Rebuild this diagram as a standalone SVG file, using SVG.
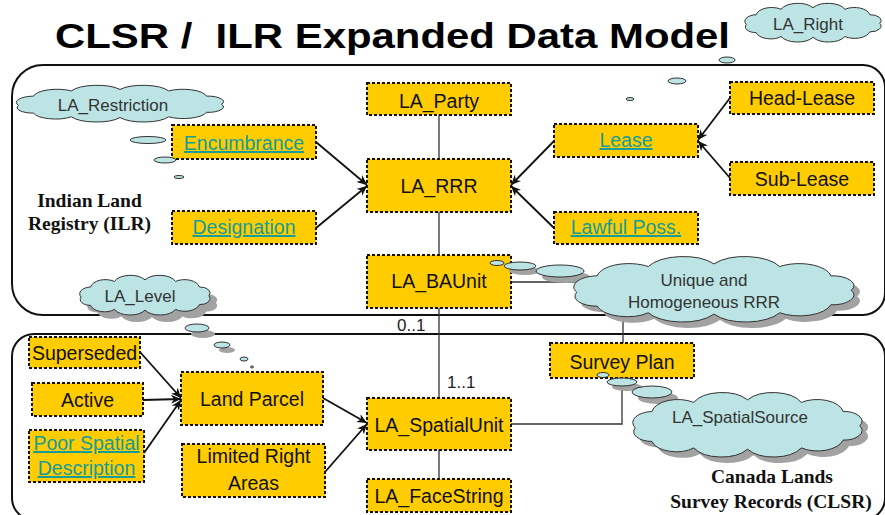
<svg xmlns="http://www.w3.org/2000/svg" xmlns:xlink="http://www.w3.org/1999/xlink" width="885" height="515" viewBox="0 0 885 515">
<style>
.box{fill:#FFCC00;stroke:#111;stroke-width:2;stroke-dasharray:3 2}
.t{font-family:"Liberation Sans",Arial,sans-serif;font-size:19.5px;fill:#111;text-anchor:middle}
.lnk{fill:#139C9C;text-decoration:underline}
.ct{font-family:"Liberation Sans",Arial,sans-serif;font-size:17px;fill:#333;text-anchor:middle}
.sr{font-family:"Liberation Serif","Times New Roman",serif;font-size:19.5px;font-weight:bold;fill:#111;text-anchor:middle}
.cl{fill:#BCE4E4;stroke:#333;stroke-width:1}
.sh{fill:#A2A2A2;stroke:none}
.reg{fill:none;stroke:#111;stroke-width:2}
.ar{fill:none;stroke:#111;stroke-width:1.8;marker-end:url(#ah)}
.pl{fill:none;stroke:#333;stroke-width:1.3}
.lab{font-family:"Liberation Sans",Arial,sans-serif;font-size:17px;fill:#222}
</style>
<defs>
<path id="cloud" vector-effect="non-scaling-stroke" d="M6,55 A17,17 0 0 1 20,30 A22,22 0 0 1 55,16 A26,26 0 0 1 100,12 A26,26 0 0 1 145,16 A22,22 0 0 1 180,30 A15,15 0 0 1 194,52 A15,15 0 0 1 180,74 A22,22 0 0 1 145,86 A26,26 0 0 1 100,88 A26,26 0 0 1 55,86 A21,21 0 0 1 20,76 A15,15 0 0 1 6,55 Z"/>
<marker id="ah" markerUnits="userSpaceOnUse" markerWidth="11" markerHeight="9" refX="10" refY="4.5" orient="auto">
<path d="M0,0 L10,4.5 L0,9 L3,4.5 Z" fill="#111"/>
</marker>
</defs>
<rect width="885" height="515" fill="#fff"/>

<g id="title">
<text x="55" y="48" font-family="Liberation Sans,Arial,sans-serif" font-size="35" font-weight="bold" fill="#000" textLength="675" lengthAdjust="spacingAndGlyphs">CLSR /&#160; ILR Expanded Data Model</text>
</g>

<g id="regions">
<path class="reg" d="M12,96 A31,31 0 0 1 43,65 L863,65 A22,22 0 0 1 885,87 L885,293 A22,22 0 0 1 863,315 L43,315 A31,31 0 0 1 12,284 Z"/>
<path class="reg" d="M12,356 A22,22 0 0 1 34,334 L863,334 A22,22 0 0 1 885,356 L885,498 A22,22 0 0 1 863,520 L34,520 A22,22 0 0 1 12,498 Z"/>
<text class="sr" x="89.5" y="207">Indian Land</text>
<text class="sr" x="89.5" y="230">Registry (ILR)</text>
<text class="sr" x="772" y="483">Canada Lands</text>
<text class="sr" x="771" y="508">Survey Records (CLSR)</text>
</g>

<g id="connectors">
<path class="pl" d="M439,115 V159 M439,212 V255 M439,308 V398 M439,450 V479"/>
<path class="pl" d="M511,282 H580 M623,316 V343 M511,424 H622 V379"/>
<path class="ar" d="M316,142 L367,185"/>
<path class="ar" d="M316,228 L367,186"/>
<path class="ar" d="M554,141 L511,185"/>
<path class="ar" d="M554,228 L511,186"/>
<path class="ar" d="M730,98 L698,140"/>
<path class="ar" d="M730,178 L698,141"/>
<path class="ar" d="M140,352 L181,398"/>
<path class="ar" d="M143,400 L181,399"/>
<path class="ar" d="M144,453 L181,400"/>
<path class="ar" d="M323,398 L367,423"/>
<path class="ar" d="M325,472 L367,424"/>
<text class="lab" x="397" y="331">0..1</text>
<text class="lab" x="447" y="388">1..1</text>
</g>

<g id="n-party"><rect class="box" x="367" y="83" width="144" height="32"/><text class="t" x="439" y="108">LA_Party</text></g>
<g id="n-rrr"><rect class="box" x="367" y="159" width="144" height="53"/><text class="t" x="439" y="193">LA_RRR</text></g>
<g id="n-lease"><rect class="box" x="554" y="124" width="144" height="33"/><text class="t lnk" x="626" y="147">Lease</text></g>
<g id="n-headlease"><rect class="box" x="730" y="82" width="144" height="32"/><text class="t" x="802" y="105">Head-Lease</text></g>
<g id="n-sublease"><rect class="box" x="730" y="162" width="144" height="33"/><text class="t" x="802" y="186">Sub-Lease</text></g>
<g id="n-lawful"><rect class="box" x="554" y="212" width="144" height="32"/><text class="t lnk" x="626" y="234">Lawful Poss.</text></g>
<g id="n-encumbrance"><rect class="box" x="172" y="125" width="144" height="34"/><text class="t lnk" x="244" y="150">Encumbrance</text></g>
<g id="n-designation"><rect class="box" x="172" y="211" width="144" height="33"/><text class="t lnk" x="244" y="234">Designation</text></g>
<g id="n-baunit"><rect class="box" x="367" y="255" width="144" height="53"/><text class="t" x="439" y="288">LA_BAUnit</text></g>
<g id="n-spatialunit"><rect class="box" x="367" y="398" width="144" height="52"/><text class="t" x="439" y="432">LA_SpatialUnit</text></g>
<g id="n-facestring"><rect class="box" x="367" y="479" width="144" height="33"/><text class="t" x="439" y="503">LA_FaceString</text></g>
<g id="n-surveyplan"><rect class="box" x="550" y="343" width="144" height="35"/><text class="t" x="622" y="369">Survey Plan</text></g>
<g id="n-landparcel"><rect class="box" x="181" y="372" width="142" height="53"/><text class="t" x="252" y="406">Land Parcel</text></g>
<g id="n-limited"><rect class="box" x="182" y="444" width="143" height="53"/><text class="t" x="253.5" y="463">Limited Right</text><text class="t" x="253.5" y="490">Areas</text></g>
<g id="n-superseded"><rect class="box" x="29" y="337" width="111" height="31"/><text class="t" x="84.5" y="360">Superseded</text></g>
<g id="n-active"><rect class="box" x="32" y="383" width="111" height="33"/><text class="t" x="87.5" y="407">Active</text></g>
<g id="n-poor"><rect class="box" x="29" y="430" width="115" height="52"/><text class="t lnk" x="86.5" y="450">Poor Spatial</text><text class="t lnk" x="86.5" y="475">Description</text></g>

<g id="c-right">
<use xlink:href="#cloud" class="cl" transform="translate(742,3) scale(0.71,0.39)"/>
<text class="ct" x="808" y="30">LA_Right</text>
<ellipse class="cl" cx="727" cy="60" rx="8" ry="3"/>
<ellipse class="cl" cx="677" cy="81" rx="9" ry="3"/>
<ellipse class="cl" cx="630" cy="99" rx="4" ry="1.5"/>
</g>
<g id="c-restriction">
<use xlink:href="#cloud" class="cl" transform="translate(12,85) scale(1.08,0.37)"/>
<text class="ct" x="113" y="111">LA_Restriction</text>
<ellipse class="cl" cx="148" cy="140" rx="18" ry="3.5"/>
<ellipse class="cl" cx="165" cy="160" rx="11" ry="3"/>
<ellipse class="cl" cx="179" cy="177" rx="5" ry="1.5"/>
</g>
<g id="c-level">
<use xlink:href="#cloud" class="sh" transform="translate(84,282) scale(0.68,0.40)"/>
<ellipse class="sh" cx="203" cy="334" rx="12" ry="4"/>
<ellipse class="sh" cx="227" cy="350" rx="8" ry="3"/>
<use xlink:href="#cloud" class="cl" transform="translate(77,275) scale(0.68,0.40)"/>
<text class="ct" x="140" y="302">LA_Level</text>
<ellipse class="cl" cx="197" cy="328" rx="12" ry="4"/>
<ellipse class="cl" cx="222" cy="345" rx="8" ry="3"/>
<ellipse class="cl" cx="244" cy="359" rx="4" ry="2"/>
<ellipse class="cl" cx="252" cy="367" rx="1.5" ry="1"/>
</g>
<g id="c-unique">
<use xlink:href="#cloud" class="sh" transform="translate(574,262) scale(1.46,0.66)"/>
<ellipse class="sh" cx="525" cy="271" rx="16" ry="4"/>
<ellipse class="sh" cx="566" cy="277" rx="24" ry="6"/>
<use xlink:href="#cloud" class="cl" transform="translate(568,256) scale(1.46,0.66)"/>
<text class="ct" x="704" y="286">Unique and</text>
<text class="ct" x="704" y="308">Homogeneous RRR</text>
<ellipse class="cl" cx="497" cy="263" rx="7" ry="2.5"/>
<ellipse class="cl" cx="520" cy="266" rx="16" ry="4"/>
<ellipse class="cl" cx="560" cy="271" rx="24" ry="6"/>
</g>
<g id="c-spatialsource">
<use xlink:href="#cloud" class="sh" transform="translate(634,398) scale(1.195,0.65)"/>
<ellipse class="sh" cx="627" cy="387" rx="15" ry="4"/>
<ellipse class="sh" cx="658" cy="398" rx="20" ry="6"/>
<use xlink:href="#cloud" class="cl" transform="translate(628,392) scale(1.195,0.65)"/>
<text class="ct" x="740" y="423">LA_SpatialSource</text>
<ellipse class="cl" cx="603" cy="375" rx="6" ry="2.5"/>
<ellipse class="cl" cx="622" cy="382" rx="15" ry="4"/>
<ellipse class="cl" cx="652" cy="392" rx="20" ry="6"/>
</g>
</svg>
